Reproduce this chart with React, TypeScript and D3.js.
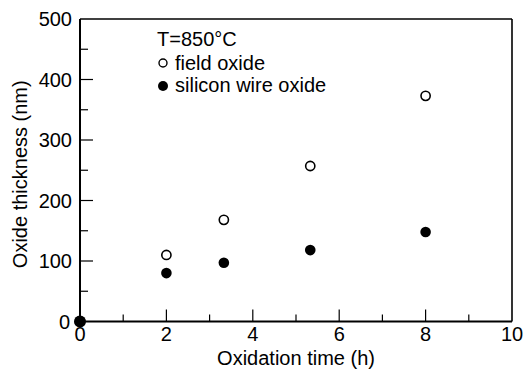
import React from "react";
import * as d3 from "d3";

const timesH = [0, 2, 3.33, 5.33, 8];
const fieldOxide = [0, 110, 168, 257, 373];
const wireOxide = [0, 80, 97, 118, 148];
const xTicks = [0, 2, 4, 6, 8, 10];
const xMinor = [1, 3, 5, 7, 9];
const yTicks = [0, 100, 200, 300, 400, 500];
const yMinor = [50, 150, 250, 350, 450];
const legendTitle = "T=850°C";
const seriesNames = ["field oxide", "silicon wire oxide"];

const W = 525, H = 375;
const L = 80, R = 512, T = 19, B = 321.5;
const FONT = "'Liberation Sans', Arial, Helvetica, sans-serif";

export default function App() {
  const x = d3.scaleLinear().domain([0, 10]).range([L, R]);
  const y = d3.scaleLinear().domain([0, 500]).range([B, T]);
  return (
    <svg width={W} height={H} style={{ position: "absolute", left: 0, top: 0, background: "#fff" }}
      fontFamily={FONT}>
      <rect x={0} y={0} width={W} height={H} fill="#fff" />
      {/* frame */}
      <line x1={L} x2={R} y1={T} y2={T} stroke="#000" strokeWidth={1.6} />
      <line x1={R} x2={R} y1={T} y2={B} stroke="#000" strokeWidth={1.6} />
      <line x1={L} x2={L} y1={T} y2={B} stroke="#000" strokeWidth={2} />
      <line x1={L} x2={R} y1={B} y2={B} stroke="#000" strokeWidth={2} />
      {/* x ticks */}
      {xTicks.map((t) => (
        <g key={"xt" + t}>
          {t > 0 && t < 10 && <line x1={x(t)} x2={x(t)} y1={B} y2={B - 12} stroke="#000" strokeWidth={1.2} />}
          <text x={x(t)} y={B + 19} fontSize={20} textAnchor="middle">{t}</text>
        </g>
      ))}
      {xMinor.map((t) => (
        <line key={"xm" + t} x1={x(t)} x2={x(t)} y1={B} y2={B - 7} stroke="#000" strokeWidth={1.2} />
      ))}
      {/* y ticks */}
      {yTicks.map((t) => (
        <g key={"yt" + t}>
          {t > 0 && t < 500 && <line x1={L} x2={L + 13} y1={y(t)} y2={y(t)} stroke="#000" strokeWidth={1.2} />}
          <text x={t === 0 ? 70 : 72} y={y(t) + 7} fontSize={20} textAnchor="end">{t}</text>
        </g>
      ))}
      {yMinor.map((t) => (
        <line key={"ym" + t} x1={L} x2={L + 8} y1={y(t)} y2={y(t)} stroke="#000" strokeWidth={1.2} />
      ))}
      {/* axis titles */}
      <text x={(L + R) / 2 + 0} y={365} fontSize={20} textAnchor="middle">Oxidation time (h)</text>
      <text transform={`translate(27, ${(T + B) / 2 + 4}) rotate(-90)`} fontSize={20} textAnchor="middle">
        Oxide thickness (nm)
      </text>
      {/* data */}
      {timesH.map((t, i) => (
        <circle key={"f" + i} cx={x(t)} cy={y(fieldOxide[i])} r={4.6} fill="#fff" stroke="#000" strokeWidth={1.6} />
      ))}
      {timesH.map((t, i) => (
        <circle key={"w" + i} cx={x(t)} cy={y(wireOxide[i])} r={i === 0 ? 6 : 5.3} fill="#000" />
      ))}
      {/* legend */}
      <text x={157} y={46} fontSize={20}>{legendTitle}</text>
      <circle cx={163} cy={63} r={4} fill="#fff" stroke="#000" strokeWidth={1.4} />
      <text x={175} y={70} fontSize={20}>{seriesNames[0]}</text>
      <circle cx={163} cy={86} r={5} fill="#000" />
      <text x={175} y={92} fontSize={20}>{seriesNames[1]}</text>
    </svg>
  );
}
